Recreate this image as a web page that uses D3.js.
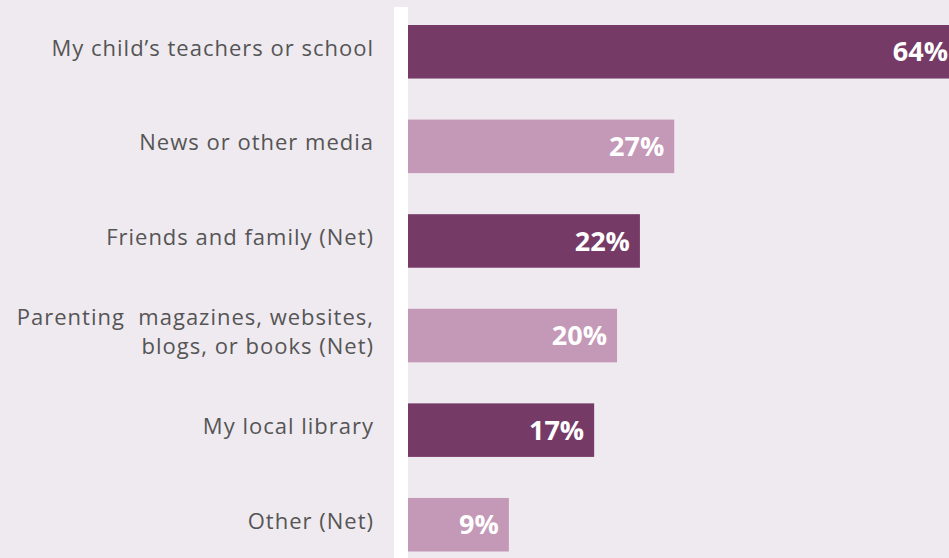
<!DOCTYPE html>
<html>
<head>
<meta charset="utf-8">
<script src="https://cdn.jsdelivr.net/npm/d3@7"></script>
<style>
  html, body { margin: 0; padding: 0; background: #efeaf0; }
  svg { display: block; }
</style>
</head>
<body>
<svg id="chart" width="949" height="558"></svg>
<script>
// Categories (top to bottom)
const categories = [
  "My child’s teachers or school",
  "News or other media",
  "Friends and family (Net)",
  "Parenting  magazines, websites,\nblogs, or books (Net)",
  "My local library",
  "Other (Net)"
];
// Printed percentages
const values = [64, 27, 22, 20, 17, 9];
const valueLabels = ["64%", "27%", "22%", "20%", "17%", "9%"];
// Bar lengths as drawn in the picture (percent units)
const barValues = [64, 25.6, 22.3, 20.1, 17.9, 9.7];
const barColors = ["#763a66", "#c498b7", "#763a66", "#c498b7", "#763a66", "#c498b7"];

const W = 949, H = 558;
const svg = d3.select("#chart");

svg.append("rect").attr("width", W).attr("height", H).attr("fill", "#efeaf0");

const x = d3.scaleLinear().domain([0, 100]).range([408, 1448]);
const y = d3.scaleBand().domain(categories).range([25, 551.5]).paddingInner(0.434).paddingOuter(0);

// white axis band
svg.append("rect")
  .attr("x", 394).attr("y", 7).attr("width", 14).attr("height", H - 7)
  .attr("fill", "#ffffff");

const g = svg.append("g");
const rows = categories.map((c, i) => ({ c, v: barValues[i], label: valueLabels[i], color: barColors[i] }));

g.selectAll("rect.bar").data(rows).join("rect")
  .attr("class", "bar")
  .attr("x", x(0))
  .attr("y", d => y(d.c))
  .attr("width", d => x(d.v) - x(0))
  .attr("height", y.bandwidth())
  .attr("fill", d => d.color);

g.selectAll("text.val").data(rows).join("text")
  .attr("class", "val")
  .attr("x", d => Math.min(x(d.v), W + 9) - 10)
  .attr("y", d => y(d.c) + y.bandwidth() / 2 + 9.7)
  .attr("text-anchor", "end")
  .attr("fill", "#ffffff")
  .style("font-family", "'Open Sans', sans-serif")
  .style("font-weight", 700)
  .style("font-size", "27px")
  .text(d => d.label);

// category labels
const lbl = g.selectAll("text.cat").data(rows).join("text")
  .attr("class", "cat")
  .attr("text-anchor", "end")
  .attr("fill", "#555555")
  .style("font-family", "'Open Sans', sans-serif")
  .style("font-size", "22px")
  .style("letter-spacing", "1px");

lbl.each(function(d) {
  const lines = d.c.split("\n");
  const cy = y(d.c) + y.bandwidth() / 2;
  const lh = 29;
  const base = cy + 4 - (lines.length - 1) * lh / 2;
  const t = d3.select(this);
  lines.forEach((ln, k) => {
    t.append("tspan")
      .attr("x", 374)
      .attr("y", base + k * lh)
      .style("white-space", "pre")
      .text(ln);
  });
});
</script>
</body>
</html>
